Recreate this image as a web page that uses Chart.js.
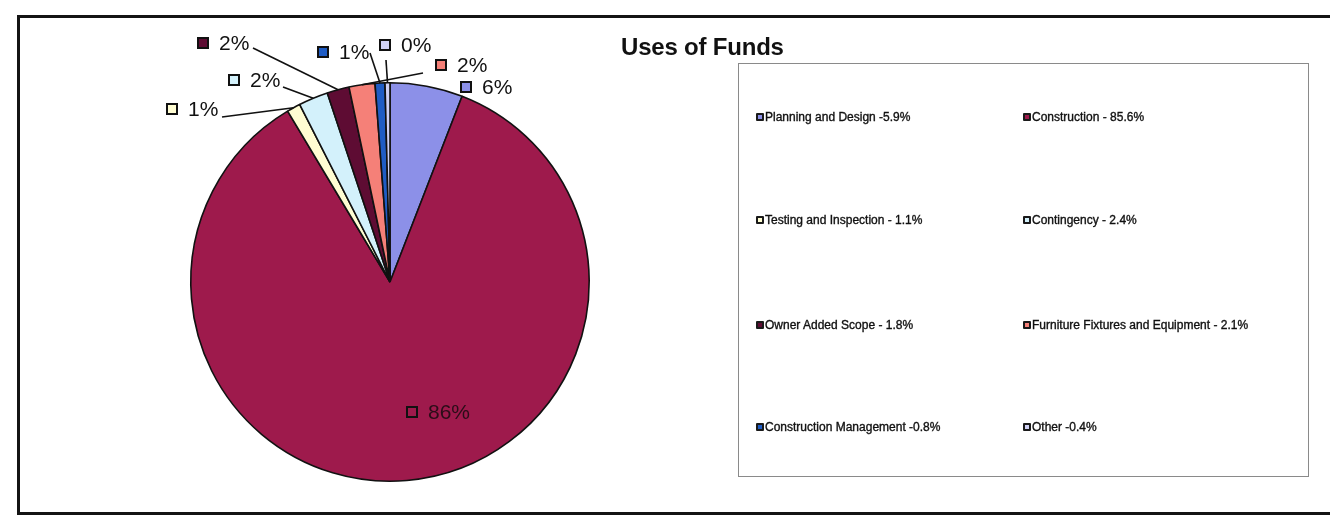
<!DOCTYPE html>
<html lang="en">
<head>
  <meta charset="UTF-8" />
  <title>Uses of Funds</title>
  <script src="https://cdn.jsdelivr.net/npm/chart.js"></script>
  <style>
    body {
      margin: 0;
      width: 1330px;
      height: 519px;
      overflow: hidden;
      background: #fff;
      font-family: Arial, 'Liberation Sans', sans-serif;
      position: relative;
    }

    .frame {
      position: absolute;
      left: 17px;
      top: 15px;
      width: 1400px;
      height: 494px;
      border: 3px solid #141414;
    }

    #pie {
      position: absolute;
      left: 0;
      top: 0;
    }

    .title {
      position: absolute;
      left: 621px;
      top: 33px;
      font-size: 24px;
      font-weight: bold;
      color: #111;
      letter-spacing: -0.2px;
    }

    .legend-box {
      position: absolute;
      left: 738px;
      top: 63px;
      width: 569px;
      height: 412px;
      border: 1.5px solid #8a8a8a;
    }

    .legend-item {
      position: absolute;
      display: flex;
      align-items: center;
      font-size: 12px;
      color: #111;
      -webkit-text-stroke: 0.35px #111;
      white-space: nowrap;
    }

    .legend-key {
      width: 4px;
      height: 4px;
      border: 2.5px solid #1a1a1a;
      border-radius: 1px;
      margin-right: 1px;
    }
  </style>
</head>
<body>
  <div class="frame"></div>
  <canvas id="pie" width="1330" height="519"></canvas>
  <div class="title">Uses of Funds</div>
  <div class="legend-box" id="legend"></div>

  <script>
    const categories = [
      "Planning and Design",
      "Construction",
      "Testing and Inspection",
      "Contingency",
      "Owner Added Scope",
      "Furniture Fixtures and Equipment",
      "Construction Management",
      "Other"
    ];
    const shares = [5.9, 85.6, 1.1, 2.4, 1.8, 2.1, 0.8, 0.4];
    // dash spacing in the legend text is not uniform
    const legendSeps = [" -", " - ", " - ", " - ", " - ", " - ", " -", " -"];

    const sliceColors = ["#8c90e8", "#9e1a4c", "#fffdd2", "#d3f1fb", "#5e0c33", "#f58078", "#1f5cc4", "#d0d1f5"];

    // label square position relative to pie centre, plus where the leader line leaves the label
    const labelSpots = [
      { dx: 76, dy: -195 },
      { dx: 22, dy: 130 },
      { dx: -218, dy: -173, lx: -168, ly: -165 },
      { dx: -156, dy: -202, lx: -107, ly: -195 },
      { dx: -187, dy: -239, lx: -137, ly: -234 },
      { dx: 51, dy: -217, lx: 33, ly: -209 },
      { dx: -67, dy: -230, lx: -20, ly: -229 },
      { dx: -5, dy: -237, lx: -4, ly: -222 }
    ];

    const pieLabels = {
      id: "pieLabels",
      afterDatasetsDraw(chart) {
        const ctx = chart.ctx;
        const arcs = chart.getDatasetMeta(0).data;
        const cx = arcs[0].x, cy = arcs[0].y;
        ctx.save();
        arcs.forEach((arc, i) => {
          const spot = labelSpots[i];
          // leader line from label to the middle of the slice edge
          if (spot.lx !== undefined) {
            const mid = (arc.startAngle + arc.endAngle) / 2;
            const ex = arc.x + Math.cos(mid) * arc.outerRadius;
            const ey = arc.y + Math.sin(mid) * arc.outerRadius;
            ctx.beginPath();
            ctx.strokeStyle = "#111";
            ctx.lineWidth = 1.6;
            ctx.moveTo(cx + spot.lx, cy + spot.ly);
            ctx.lineTo(ex, ey);
            ctx.stroke();
          }
          const sx = cx + spot.dx, sy = cy + spot.dy;
          ctx.fillStyle = sliceColors[i];
          ctx.fillRect(sx - 5, sy - 5, 10, 10);
          ctx.strokeStyle = "#111";
          ctx.lineWidth = 2;
          ctx.strokeRect(sx - 5, sy - 5, 10, 10);
          ctx.fillStyle = i === 1 ? "#2a0d18" : "#111";
          ctx.font = "21px Arial, 'Liberation Sans', sans-serif";
          ctx.textBaseline = "middle";
          ctx.fillText(Math.round(shares[i]) + "%", sx + 16, sy + 1);
        });
        ctx.restore();
      }
    };

    new Chart(document.getElementById("pie"), {
      type: "pie",
      data: {
        labels: categories,
        datasets: [{
          data: shares,
          backgroundColor: sliceColors,
          borderColor: "#111",
          borderWidth: 1.6
        }]
      },
      options: {
        responsive: false,
        animation: false,
        events: [],
        layout: { padding: { left: 190, right: 740, top: 82, bottom: 37 } },
        plugins: {
          legend: { display: false },
          tooltip: { enabled: false }
        }
      },
      plugins: [pieLabels]
    });

    // legend: two columns, four rows
    const legendBox = document.getElementById("legend");
    const colX = [17, 284];
    const rowY = [54, 157, 262, 364];
    categories.forEach((name, i) => {
      const item = document.createElement("div");
      item.className = "legend-item";
      item.style.left = colX[i % 2] + "px";
      item.style.top = (rowY[Math.floor(i / 2)] - 8) + "px";
      const key = document.createElement("span");
      key.className = "legend-key";
      key.style.background = sliceColors[i];
      item.appendChild(key);
      item.appendChild(document.createTextNode(name + legendSeps[i] + shares[i] + "%"));
      legendBox.appendChild(item);
    });
  </script>
</body>
</html>
